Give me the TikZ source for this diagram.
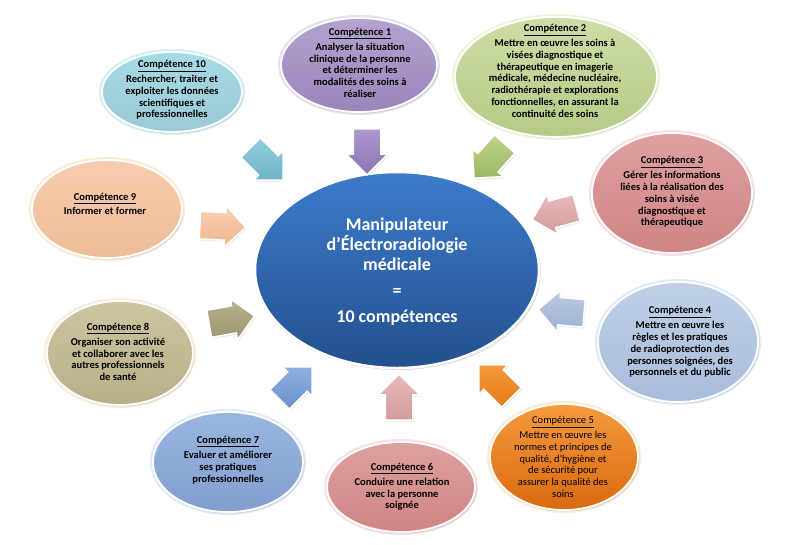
\documentclass[tikz,border=0pt]{standalone}
\usepackage{fontspec}
\setmainfont{Carlito}
\usetikzlibrary{shapes.geometric,shapes.arrows,shadows}
\definecolor{cBlueT}{HTML}{3D7BCB}
\definecolor{cBlueB}{HTML}{23508E}
% ellipse colours: top, bottom, glow
\definecolor{e10t}{HTML}{A6DBE6}\definecolor{e10b}{HTML}{9CC9D6}\definecolor{e10g}{HTML}{7FD3EA}
\definecolor{e1t}{HTML}{B3A3CE}\definecolor{e1b}{HTML}{9A85BB}\definecolor{e1g}{HTML}{B9A5D6}
\definecolor{e2t}{HTML}{CDDDA6}\definecolor{e2b}{HTML}{B5CB85}\definecolor{e2g}{HTML}{D4E8A2}
\definecolor{e3t}{HTML}{DEA09F}\definecolor{e3b}{HTML}{CF8584}\definecolor{e3g}{HTML}{F2A8A8}
\definecolor{e9t}{HTML}{F7CCAE}\definecolor{e9b}{HTML}{EFBC98}\definecolor{e9g}{HTML}{FBC58F}
\definecolor{e8t}{HTML}{CBC5A1}\definecolor{e8b}{HTML}{B7AF86}
\definecolor{e7t}{HTML}{9AB6E0}\definecolor{e7b}{HTML}{819ECF}\definecolor{e7g}{HTML}{A9C8F0}
\definecolor{e4t}{HTML}{BFD0E6}\definecolor{e4b}{HTML}{A8BDDB}
\definecolor{e5t}{HTML}{F59A3E}\definecolor{e5b}{HTML}{D9690F}
% arrow colours
\definecolor{a10t}{HTML}{8FCFDE}\definecolor{a10b}{HTML}{6FB3C6}
\definecolor{a1t}{HTML}{AB98CC}\definecolor{a1b}{HTML}{8C74B4}
\definecolor{a2t}{HTML}{BCD48A}\definecolor{a2b}{HTML}{9CB863}
\definecolor{a3t}{HTML}{E8BABA}\definecolor{a3b}{HTML}{D49A9A}
\definecolor{a9t}{HTML}{F9D1B5}\definecolor{a9b}{HTML}{F0B48C}
\definecolor{a8t}{HTML}{B8B38C}\definecolor{a8b}{HTML}{9C9670}
\definecolor{a7t}{HTML}{8FB0E0}\definecolor{a7b}{HTML}{6A90CC}
\definecolor{a5t}{HTML}{F59A3A}\definecolor{a5b}{HTML}{E57A14}
\definecolor{a4t}{HTML}{BACBE2}\definecolor{a4b}{HTML}{9CB2D3}
\tikzset{
  comp/.style n args={3}{ellipse, inner sep=0pt, draw=white, line width=1.8pt,
    top color=#1, bottom color=#2,
    preaction={draw=#3, line width=6pt, opacity=0.35},
    drop shadow={opacity=0.2, shadow xshift=1.5pt, shadow yshift=-1.5pt}},
  ctext/.style={align=center, font=\bfseries\fontsize{10.5}{11.8}\selectfont, text=black, inner sep=0pt},
  blockarrow/.style n args={2}{single arrow, minimum height=46pt, minimum width=41pt,
    single arrow head extend=7pt, inner sep=13pt, draw=white, line width=1.5pt,
    top color=#1, bottom color=#2,
    drop shadow={opacity=0.2, shadow xshift=1pt, shadow yshift=-1.5pt}},
}
\newcommand{\hd}[1]{\underline{#1}\\[3pt]}
\begin{document}
\begin{tikzpicture}[x=1pt,y=-1pt]
\useasboundingbox[fill=white] (0,0) rectangle (799,544);

% outer ellipses
\node[comp={e10t}{e10b}{e10g}, minimum width=140pt, minimum height=80pt] (c10) at (172,92) {};
\node[comp={e1t}{e1b}{e1g}, minimum width=156pt, minimum height=94pt] (c1) at (359,65) {};
\node[comp={e2t}{e2b}{e2g}, minimum width=202pt, minimum height=120pt] (c2) at (556,77) {};
\node[comp={e3t}{e3b}{e3g}, minimum width=160pt, minimum height=120pt] (c3) at (672,193) {};
\node[comp={e9t}{e9b}{e9g}, minimum width=150pt, minimum height=98pt] (c9) at (107,209) {};
\node[comp={e8t}{e8b}{e9g}, minimum width=146pt, minimum height=104pt] (c8) at (120,353) {};
\node[comp={e7t}{e7b}{e7g}, minimum width=150pt, minimum height=100pt] (c7) at (228,462) {};
\node[comp={e3t}{e3b}{e3g}, minimum width=148pt, minimum height=90pt] (c6) at (401,487) {};
\node[comp={e4t}{e4b}{e7g}, minimum width=160pt, minimum height=120pt] (c4) at (678,342) {};
\node[comp={e5t}{e5b}{e9g}, minimum width=148pt, minimum height=106pt] (c5) at (564,457) {};

% central ellipse
\node[ellipse, minimum width=284pt, minimum height=196pt, inner sep=0pt, draw=white, line width=2.5pt,
  top color=cBlueT, bottom color=cBlueB,
  drop shadow={opacity=0.25, shadow xshift=2pt, shadow yshift=-2pt}] (m) at (397,270) {};
\node[align=center, text=white, font=\bfseries\fontsize{18}{20}\selectfont] (mt) at (397,272)
  {Manipulateur\\d’Électroradiologie\\médicale\\[6pt]=\\[6pt]10 compétences};

% texts
\node[ctext] (t1) at (360,63) {\hd{Compétence 1}Analyser la situation\\clinique de la personne\\et déterminer les\\modalités des soins à\\réaliser};
\node[ctext] (t10) at (172,90) {\hd{Compétence 10}Rechercher, traiter et\\exploiter les données\\scientifiques et\\professionnelles};
\node[ctext] (t2) at (555,71) {\hd{Compétence 2}Mettre en œuvre les soins à\\visées diagnostique et\\thérapeutique en imagerie\\médicale, médecine nucléaire,\\radiothérapie et explorations\\fonctionnelles, en assurant la\\continuité des soins};
\node[ctext] (t3) at (672,192) {\hd{Compétence 3}Gérer les informations\\liées à la réalisation des\\soins à visée\\diagnostique et\\thérapeutique};
\node[ctext] (t9) at (105,204) {\hd{Compétence 9}Informer et former};
\node[ctext] (t8) at (118,352) {\hd{Compétence 8}Organiser son activité\\et collaborer avec les\\autres professionnels\\de santé};
\node[ctext] (t7) at (228,460) {\hd{Compétence 7}Evaluer et améliorer\\ses pratiques\\professionnelles};
\node[ctext] (t6) at (402,487) {\hd{Compétence 6}Conduire une relation\\avec la personne\\soignée};
\node[ctext] (t4) at (680,342) {\hd{Compétence 4}Mettre en œuvre les\\règles et les pratiques\\de radioprotection des\\personnes soignées, des\\personnels et du public};
\node[ctext, font=\fontsize{10.5}{11.8}\selectfont] (t5) at (563,457) {\hd{Compétence 5}Mettre en œuvre les\\normes et principes de\\qualité, d’hygiène et\\de sécurité pour\\assurer la qualité des\\soins};

% block arrows
\node[blockarrow={a10t}{a10b}, rotate=-45] (a10) at (262,159) {};
\node[blockarrow={a1t}{a1b}, rotate=-90] (a1) at (367,145) {};
\node[blockarrow={a2t}{a2b}, rotate=-132] (a2) at (494,156) {};
\node[blockarrow={a3t}{a3b}, rotate=195] (a3) at (561,212) {};
\node[blockarrow={a9t}{a9b}, rotate=-3] (a9) at (216,226) {};
\node[blockarrow={a8t}{a8b}, rotate=10] (a8) at (225,321) {};
\node[blockarrow={a7t}{a7b}, rotate=45] (a7) at (291,388) {};
\node[blockarrow={a3t}{a3b}, rotate=90] (a6) at (399,404) {};
\node[blockarrow={a5t}{a5b}, rotate=135] (a5) at (500,386) {};
\node[blockarrow={a4t}{a4b}, rotate=175] (a4) at (568,312) {};
\end{tikzpicture}
\end{document}
